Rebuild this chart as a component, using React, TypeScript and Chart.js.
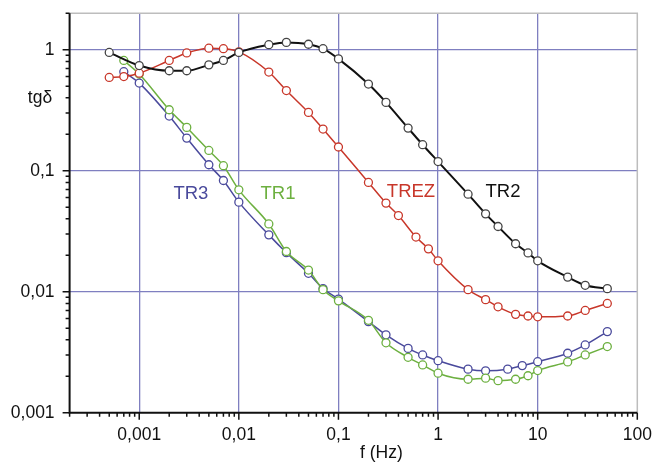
import React, { useEffect, useRef } from 'react';
import { Chart, registerables } from 'chart.js';
Chart.register(...registerables);

// ---- data (f in Hz, tg delta) ----
const freqTR2 = [0.0005, 0.001, 0.002, 0.003, 0.005, 0.007, 0.01, 0.02, 0.03, 0.05, 0.07, 0.1, 0.2, 0.3, 0.5, 0.7, 1, 2, 3, 4, 6, 8, 10, 20, 30, 50];
const tgTR2 = [0.95, 0.74, 0.67, 0.67, 0.75, 0.815, 0.95, 1.1, 1.15, 1.11, 1.02, 0.84, 0.52, 0.367, 0.225, 0.164, 0.119, 0.064, 0.044, 0.0346, 0.0249, 0.0209, 0.018, 0.0132, 0.0113, 0.0106];

const freqTREZ = [0.0005, 0.0007, 0.001, 0.002, 0.003, 0.005, 0.007, 0.01, 0.02, 0.03, 0.05, 0.07, 0.1, 0.2, 0.3, 0.4, 0.6, 0.8, 1, 2, 3, 4, 6, 8, 10, 20, 30, 50];
const tgTREZ = [0.59, 0.6, 0.64, 0.815, 0.94, 1.03, 1.02, 0.96, 0.654, 0.46, 0.303, 0.221, 0.157, 0.08, 0.054, 0.0426, 0.0283, 0.0226, 0.018, 0.0104, 0.0086, 0.0075, 0.0065, 0.0063, 0.0062, 0.0063, 0.007, 0.008];

const freqTR1 = [0.0007, 0.001, 0.002, 0.003, 0.005, 0.007, 0.01, 0.02, 0.03, 0.05, 0.07, 0.1, 0.2, 0.3, 0.5, 0.7, 1, 2, 3, 4, 6, 8, 10, 20, 30, 50];
const tgTR1 = [0.815, 0.63, 0.319, 0.228, 0.147, 0.11, 0.0695, 0.0363, 0.0215, 0.0151, 0.0104, 0.0084, 0.0058, 0.00378, 0.00287, 0.00248, 0.00212, 0.00189, 0.00193, 0.00184, 0.00189, 0.00202, 0.00223, 0.00263, 0.003, 0.00352];

const freqTR3 = [0.0007, 0.001, 0.002, 0.003, 0.005, 0.007, 0.01, 0.02, 0.03, 0.05, 0.07, 0.1, 0.2, 0.3, 0.5, 0.7, 1, 2, 3, 5, 7, 10, 20, 30, 50];
const tgTR3 = [0.658, 0.53, 0.283, 0.186, 0.112, 0.083, 0.055, 0.0295, 0.021, 0.0142, 0.0106, 0.0087, 0.00566, 0.0044, 0.0034, 0.003, 0.00269, 0.00229, 0.00222, 0.00229, 0.00245, 0.00264, 0.0031, 0.00363, 0.00468];

// ---- axes ----
const xMin = 0.0002;
const xMax = 100;
const yMin = 0.001;
const yMax = 2;
const xDecades = [0.001, 0.01, 0.1, 1, 10, 100];
const xTickLabels = ['0,001', '0,01', '0,1', '1', '10', '100'];
const yDecades = [0.001, 0.01, 0.1, 1];
const yTickLabels = ['0,001', '0,01', '0,1', '1'];
const xTitle = 'f (Hz)';
const yTitle = 'tg\u03B4';

// series label annotations (name, x value, y value)
const seriesLabels = [
  { text: 'TR3', x: 0.0033, y: 0.0644, color: '#4a4a9c' },
  { text: 'TR1', x: 0.0247, y: 0.0644, color: '#6db040' },
  { text: 'TREZ', x: 0.535, y: 0.067, color: '#c8372a' },
  { text: 'TR2', x: 4.48, y: 0.067, color: '#111111' },
];

const FONT = '"Liberation Sans", Arial, sans-serif';
const FS = 17.5;
const FS_LABEL = 18.5;

function logTicks(min: number, max: number) {
  const out: { value: number; major: boolean }[] = [];
  const start = Math.floor(Math.log10(min) + 1e-9);
  const end = Math.ceil(Math.log10(max) - 1e-9);
  for (let e = start; e <= end; e++) {
    for (let m = 1; m <= 9; m++) {
      const v = parseFloat((m * Math.pow(10, e)).toPrecision(6));
      if (v >= min * 0.9999 && v <= max * 1.0001) out.push({ value: v, major: m === 1 });
    }
  }
  return out;
}

function isDecade(v: number) {
  const l = Math.log10(v);
  return Math.abs(l - Math.round(l)) < 1e-6;
}

function labelFor(v: number, decs: number[], labels: string[]) {
  for (let i = 0; i < decs.length; i++) {
    if (Math.abs(v / decs[i] - 1) < 1e-6) return labels[i];
  }
  return '';
}

const mkPts = (xs: number[], ys: number[]) => xs.map((x, i) => ({ x, y: ys[i] }));

const decorPlugin = {
  id: 'decor',
  afterDraw(chart: any) {
    const { ctx, chartArea: a, scales } = chart;
    const xs = scales.x;
    const ys = scales.y;
    ctx.save();
    // top and right frame
    ctx.strokeStyle = '#bdbdbd';
    ctx.lineWidth = 1.5;
    ctx.beginPath();
    ctx.moveTo(a.left, a.top);
    ctx.lineTo(a.right, a.top);
    ctx.lineTo(a.right, a.bottom);
    ctx.stroke();
    // axis lines
    ctx.strokeStyle = '#111';
    ctx.lineWidth = 2;
    ctx.beginPath();
    ctx.moveTo(a.left, a.top);
    ctx.lineTo(a.left, a.bottom);
    ctx.lineTo(a.right, a.bottom);
    ctx.stroke();
    // ticks
    ctx.lineWidth = 1.5;
    ctx.beginPath();
    for (const t of xs.ticks) {
      const px = xs.getPixelForValue(t.value);
      const len = isDecade(t.value) ? 7 : 4;
      ctx.moveTo(px, a.bottom);
      ctx.lineTo(px, a.bottom + len);
    }
    for (const t of ys.ticks) {
      const py = ys.getPixelForValue(t.value);
      const len = isDecade(t.value) ? 7 : 4;
      ctx.moveTo(a.left, py);
      ctx.lineTo(a.left - len, py);
    }
    ctx.stroke();
    // titles
    ctx.fillStyle = '#111';
    ctx.font = `${FS}px ${FONT}`;
    ctx.textAlign = 'center';
    ctx.textBaseline = 'middle';
    ctx.fillText(yTitle, 40, ys.getPixelForValue(0.4));
    ctx.fillText(xTitle, xs.getPixelForValue(0.27), 453);
    // series labels
    ctx.font = `${FS_LABEL}px ${FONT}`;
    for (const s of seriesLabels) {
      ctx.fillStyle = s.color;
      ctx.fillText(s.text, xs.getPixelForValue(s.x), ys.getPixelForValue(s.y));
    }
    ctx.restore();
  },
};

export default function App() {
  const ref = useRef<HTMLCanvasElement | null>(null);
  useEffect(() => {
    document.body.style.margin = '0';
    if (!ref.current) return;
    const ds = (label: string, data: any[], color: string, pointColor: string, width: number) => ({
      label,
      data,
      borderColor: color,
      backgroundColor: '#ffffff',
      borderWidth: width,
      pointRadius: 4,
      pointBorderWidth: 1.3,
      pointBorderColor: pointColor,
      pointBackgroundColor: '#ffffff',
      cubicInterpolationMode: 'monotone' as const,
      fill: false,
    });
    const chart = new Chart(ref.current, {
      type: 'line',
      data: {
        datasets: [
          ds('TR2', mkPts(freqTR2, tgTR2), '#111111', '#444444', 2),
          ds('TREZ', mkPts(freqTREZ, tgTREZ), '#c8372a', '#c8372a', 1.5),
          ds('TR1', mkPts(freqTR1, tgTR1), '#6db040', '#6db040', 1.5),
          ds('TR3', mkPts(freqTR3, tgTR3), '#4a4a9c', '#4a4a9c', 1.5),
        ],
      },
      options: {
        animation: false,
        responsive: false,
        devicePixelRatio: 1,
        layout: { padding: { top: 13.3, right: 15.7, left: 0, bottom: 0 } },
        plugins: { legend: { display: false }, tooltip: { enabled: false } },
        scales: {
          x: {
            type: 'logarithmic',
            min: xMin,
            max: xMax,
            afterBuildTicks: (s: any) => { s.ticks = logTicks(xMin, xMax); },
            afterFit: (s: any) => { s.height = 50.3; s.paddingLeft = 0; s.paddingRight = 0; },
            ticks: {
              autoSkip: false,
              maxRotation: 0,
              padding: 12,
              color: '#111',
              font: { family: FONT, size: FS },
              callback: (v: any) => labelFor(Number(v), xDecades, xTickLabels),
            },
            grid: {
              drawTicks: false,
              lineWidth: 1.3,
              color: (c: any) => (c.tick && isDecade(c.tick.value) && c.tick.value > xMin && c.tick.value < xMax ? '#7f7fc0' : 'rgba(0,0,0,0)'),
            },
            border: { display: false },
          },
          y: {
            type: 'logarithmic',
            min: yMin,
            max: yMax,
            afterBuildTicks: (s: any) => { s.ticks = logTicks(yMin, yMax); },
            afterFit: (s: any) => { s.width = 69.6; s.paddingTop = 0; s.paddingBottom = 0; },
            ticks: {
              autoSkip: false,
              padding: 15,
              color: '#111',
              font: { family: FONT, size: FS },
              callback: (v: any) => labelFor(Number(v), yDecades, yTickLabels),
            },
            grid: {
              drawTicks: false,
              lineWidth: 1.3,
              color: (c: any) => (c.tick && isDecade(c.tick.value) && c.tick.value > yMin ? '#7f7fc0' : 'rgba(0,0,0,0)'),
            },
            border: { display: false },
          },
        },
      },
      plugins: [decorPlugin],
    });
    return () => chart.destroy();
  }, []);
  return <canvas ref={ref} width={653} height={463} style={{ display: 'block' }} />;
}
